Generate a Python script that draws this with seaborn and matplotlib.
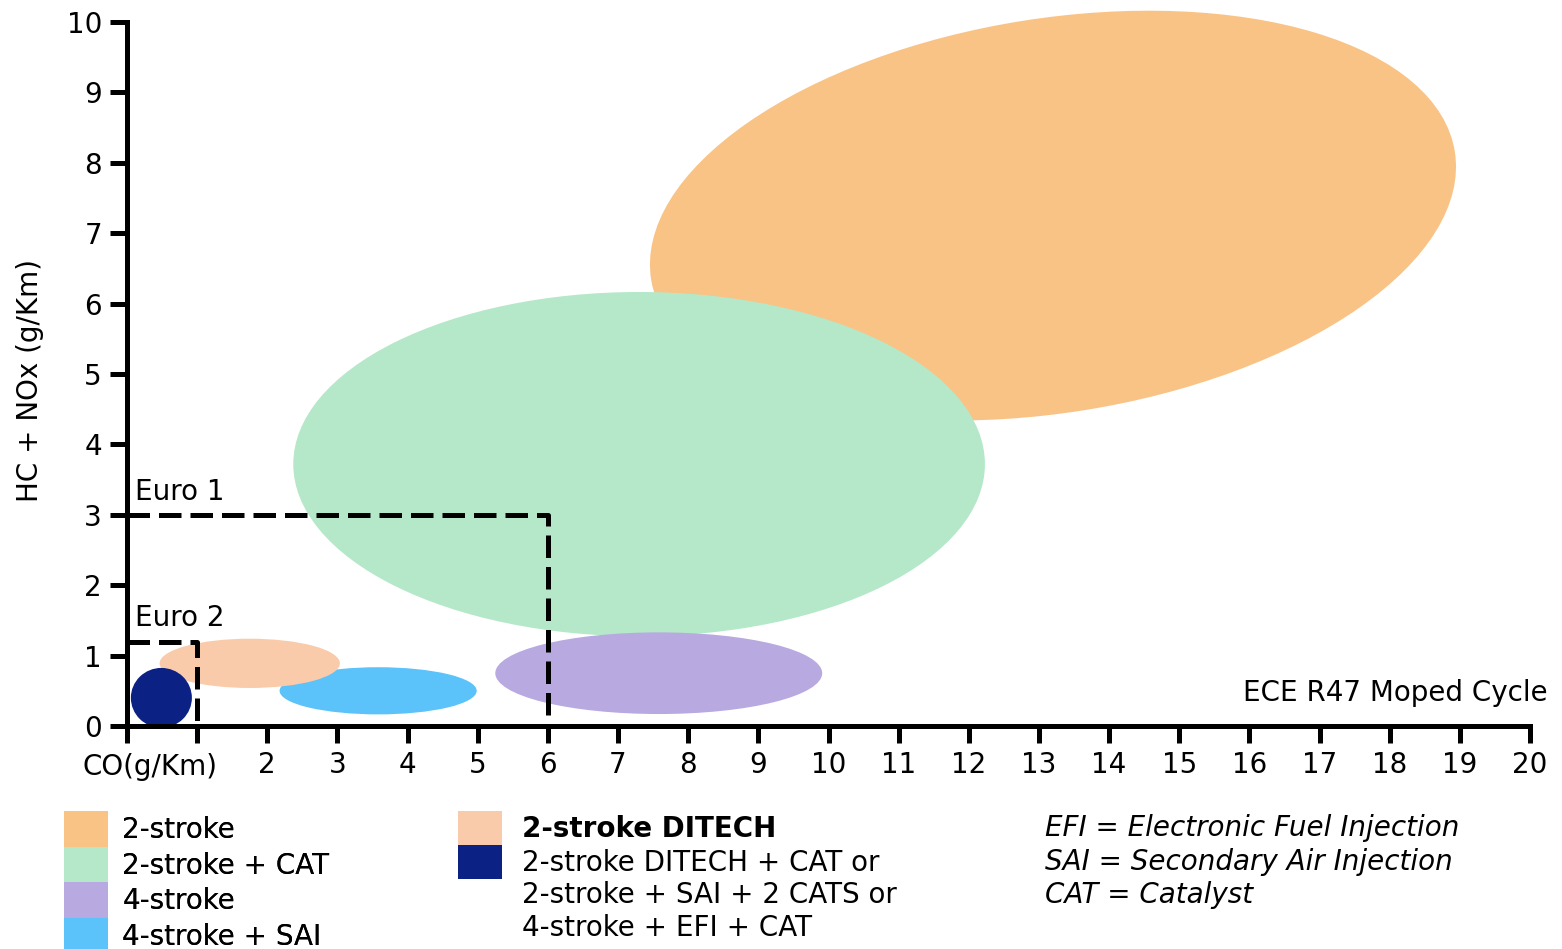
import numpy as np
import pandas as pd
import seaborn as sns
import matplotlib.pyplot as plt
from matplotlib.patches import Ellipse, Patch

# Emission envelopes: CO (g/km) vs HC + NOx (g/km)
groups = ["2-stroke", "2-stroke + CAT", "4-stroke", "4-stroke + SAI",
          "2-stroke DITECH", "2-stroke DITECH + CAT or"]
co_center = [13.2, 7.30, 7.58, 3.58, 1.75, 0.49]
hc_center = [7.25, 3.72, 0.75, 0.50, 0.89, 0.40]
co_span = [11.6, 9.86, 4.66, 2.81, 2.57, 0.87]
hc_span = [5.6, 4.89, 1.16, 0.67, 0.70, 0.85]
tilt_deg = [9, 0, 0, 0, 0, 0]
colors = ["#FAC386", "#B5E8C9", "#B8A9E0", "#5BC3F9", "#F9CBAA", "#0B2183"]

# Regulatory limits
euro1_co = [0, 6, 6]
euro1_hc = [3, 3, 0]
euro2_co = [0, 1, 1]
euro2_hc = [1.2, 1.2, 0]

x_ticks = list(range(0, 21))
y_ticks = list(range(0, 11))

sns.set_theme(style="white")
plt.rcParams["font.family"] = ["DejaVu Sans"]
plt.rcParams["text.color"] = "black"
FS = 20

fig = plt.figure(figsize=(15.62, 9.49), dpi=100)
ax = fig.add_axes([127 / 1562, 1 - 726 / 949, (1530 - 127) / 1562, (726 - 22) / 949])

for cx, cy, w, h, ang, col in zip(co_center, hc_center, co_span, hc_span, tilt_deg, colors):
    ax.add_patch(Ellipse((cx, cy), w, h, angle=ang, facecolor=col,
                         edgecolor="none", clip_on=False, zorder=1))

limits = pd.DataFrame({
    "co": euro1_co + euro2_co,
    "hc": euro1_hc + euro2_hc,
    "std": ["Euro 1"] * 3 + ["Euro 2"] * 3,
})
for name, sub in limits.groupby("std"):
    sns.lineplot(data=sub, x="co", y="hc", sort=False, estimator=None, ax=ax,
                 color="black", linewidth=3.6, linestyle=(0, (4.5, 1.8)),
                 zorder=3, clip_on=False)

ax.text(0.12, 3.13, "Euro 1", fontsize=FS, va="bottom", ha="left")
ax.text(0.12, 1.33, "Euro 2", fontsize=FS, va="bottom", ha="left")
ax.text(20.25, 0.47, "ECE R47 Moped Cycle", fontsize=FS, va="center", ha="right")

ax.set_xlim(0, 20)
ax.set_ylim(0, 10)
ax.set_xticks(x_ticks)
ax.set_xticklabels(["", ""] + [str(v) for v in x_ticks[2:]], fontsize=FS)
ax.set_yticks(y_ticks)
ax.set_yticklabels([str(v) for v in y_ticks], fontsize=FS)
ax.set_xlabel("")
ax.set_ylabel("")
ax.tick_params(axis="both", which="major", direction="out", length=12,
               width=3.6, color="black", labelcolor="black", pad=6,
               bottom=True, left=True)
for side in ("top", "right"):
    ax.spines[side].set_visible(False)
for side in ("left", "bottom"):
    ax.spines[side].set_linewidth(3.6)
    ax.spines[side].set_color("black")
    ax.spines[side].set_zorder(4)

fig.text(30 / 1562, 1 - 380 / 949, "HC + NOx (g/Km)", rotation=90,
         fontsize=FS, ha="center", va="center")
fig.text(150 / 1562, 1 - 767 / 949, "CO(g/Km)", fontsize=FS, ha="center", va="center")

# Legend blocks
handles_a = [Patch(facecolor=c, edgecolor="none") for c in colors[:4]]
leg_a = fig.legend(handles_a, groups[:4], loc="upper left",
                   bbox_to_anchor=(64 / 1562, 1 - 811 / 949), frameon=False,
                   fontsize=FS, handlelength=1.6, handleheight=1.6,
                   labelspacing=0.0, handletextpad=0.5, borderpad=0,
                   borderaxespad=0)
fig.add_artist(leg_a)

handles_b = [Patch(facecolor=c, edgecolor="none") for c in colors[4:]]
leg_b = fig.legend(handles_b, groups[4:], loc="upper left",
                   bbox_to_anchor=(458 / 1562, 1 - 811 / 949), frameon=False,
                   fontsize=FS, handlelength=1.6, handleheight=1.5,
                   labelspacing=0.0, handletextpad=0.7, borderpad=0,
                   borderaxespad=0)
leg_b.get_texts()[0].set_fontweight("bold")
fig.text(522 / 1562, 1 - 895 / 949, "2-stroke + SAI + 2 CATS or", fontsize=FS,
         ha="left", va="center")
fig.text(522 / 1562, 1 - 928 / 949, "4-stroke + EFI + CAT", fontsize=FS,
         ha="left", va="center")

notes = ["EFI = Electronic Fuel Injection",
         "SAI = Secondary Air Injection",
         "CAT = Catalyst"]
for i, line in enumerate(notes):
    fig.text(1045 / 1562, 1 - (828 + 33.5 * i) / 949, line, fontsize=FS,
             style="italic", ha="left", va="center")

fig.savefig("out.png", dpi=100)
